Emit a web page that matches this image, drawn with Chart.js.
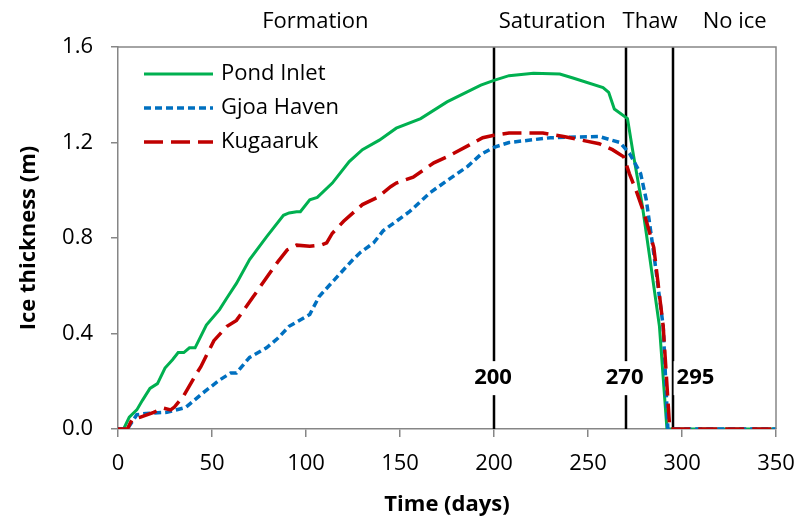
<!DOCTYPE html>
<html>
<head>
<meta charset="utf-8">
<script src="https://cdn.jsdelivr.net/npm/chart.js@4.4.1/dist/chart.umd.min.js"></script>
<style>
    html, body { margin: 0; padding: 0; background: #fff; }
    #wrap { width: 802px; height: 523px; }
</style>
</head>
<body>
<div id="wrap"><canvas id="chart" width="802" height="523"></canvas></div>
<script>
// --- Data ---
const pondDays = [0, 3, 6, 10, 13, 17, 21, 25, 29, 32, 35, 38, 41, 47, 54, 58, 63, 70, 79, 88, 91, 95, 97, 102, 106, 114, 123, 130, 139, 148, 161, 175, 193, 200, 208, 221, 235, 242, 258, 261, 264, 271, 274, 279, 283, 288, 292, 350];
const pondIce = [0, 0, 0.05, 0.08, 0.12, 0.17, 0.19, 0.255, 0.29, 0.32, 0.32, 0.34, 0.34, 0.435, 0.50, 0.55, 0.61, 0.71, 0.805, 0.895, 0.905, 0.91, 0.91, 0.96, 0.97, 1.03, 1.12, 1.17, 1.21, 1.26, 1.30, 1.37, 1.44, 1.46, 1.48, 1.49, 1.487, 1.47, 1.43, 1.41, 1.34, 1.30, 1.155, 0.93, 0.71, 0.43, 0, 0];

const gjoaDays = [0, 5, 10, 15, 26, 36, 45, 54, 60, 63, 70, 79, 85, 91, 102, 107, 118, 125, 129, 136, 141, 148, 155, 166, 175, 186, 193, 200, 208, 230, 256, 267, 272, 278, 281, 285, 290, 292.5, 350];
const gjoaIce = [0, 0, 0.06, 0.065, 0.07, 0.09, 0.15, 0.205, 0.235, 0.235, 0.30, 0.34, 0.38, 0.43, 0.48, 0.555, 0.65, 0.71, 0.74, 0.78, 0.83, 0.87, 0.91, 0.99, 1.04, 1.10, 1.15, 1.18, 1.20, 1.22, 1.225, 1.20, 1.155, 1.07, 0.96, 0.735, 0.43, 0, 0];

const kugaDays = [0, 5, 7.5, 12, 19, 24, 28, 30, 35, 42, 44, 51, 58, 63, 72, 80, 85, 90, 95, 102, 108, 111, 114, 120, 130, 138, 145, 148, 157, 168, 175, 187, 194, 200, 208, 226, 237, 256, 263, 269, 272, 276, 280, 285, 290, 293.5, 350];
const kugaIce = [0, 0, 0.04, 0.05, 0.07, 0.088, 0.08, 0.092, 0.14, 0.235, 0.26, 0.37, 0.43, 0.455, 0.555, 0.645, 0.70, 0.75, 0.77, 0.765, 0.77, 0.78, 0.82, 0.87, 0.94, 0.97, 1.015, 1.03, 1.055, 1.115, 1.14, 1.19, 1.22, 1.23, 1.24, 1.24, 1.225, 1.195, 1.17, 1.14, 1.07, 0.99, 0.90, 0.76, 0.43, 0, 0];

// phase boundaries and phase names (centre of each name, in days)
const boundaries = [200, 270, 295];
const phaseNames = ['Formation', 'Saturation', 'Thaw', 'No ice'];
const phaseCentres = [105, 231, 283, 328];

const FONT = "'Open Sans', sans-serif";

function toPoints(days, vals) {
    return days.map((d, i) => ({ x: d, y: vals[i] }));
}

// --- Phase lines, labels, frame and inline legend ---
const phasePlugin = {
    id: 'phases',
    beforeDatasetsDraw(chart) {
        const { ctx, chartArea, scales } = chart;
        const yLab = scales.y.getPixelForValue(0.213);
        ctx.save();
        ctx.strokeStyle = '#000';
        ctx.lineWidth = 2.5;
        boundaries.forEach(b => {
            const x = Math.round(scales.x.getPixelForValue(b));
            ctx.beginPath();
            ctx.moveTo(x, chartArea.top);
            ctx.lineTo(x, chartArea.bottom);
            ctx.stroke();
        });
        ctx.font = 'bold 22px ' + FONT;
        ctx.textBaseline = 'middle';
        boundaries.forEach((b, i) => {
            const x = scales.x.getPixelForValue(b);
            const txt = String(b);
            const w = ctx.measureText(txt).width;
            // last label sits right of its line
            const left = i === boundaries.length - 1 ? x + 1 : x - w / 2 - 4;
            ctx.fillStyle = '#fff';
            ctx.fillRect(left, yLab - 17, w + 6, 34);
            ctx.fillStyle = '#000';
            ctx.fillText(txt, left + 3, yLab);
        });
        ctx.restore();
    },
    afterDraw(chart) {
        const { ctx, chartArea, scales } = chart;
        ctx.save();
        // frame top/right
        ctx.strokeStyle = '#868686';
        ctx.lineWidth = 1.5;
        ctx.beginPath();
        ctx.moveTo(chartArea.left, chartArea.top);
        ctx.lineTo(chartArea.right, chartArea.top);
        ctx.lineTo(chartArea.right, chartArea.bottom);
        ctx.stroke();

        // phase names above the plot
        ctx.fillStyle = '#000';
        ctx.font = '22px ' + FONT;
        ctx.textAlign = 'center';
        ctx.textBaseline = 'middle';
        phaseNames.forEach((n, i) => {
            ctx.fillText(n, scales.x.getPixelForValue(phaseCentres[i]), 22);
        });

        // legend inside the plot
        ctx.textAlign = 'left';
        chart.data.datasets.forEach((ds, i) => {
            const y = chartArea.top + 27 + i * 34;
            ctx.strokeStyle = ds.borderColor;
            ctx.lineWidth = ds.borderWidth;
            ctx.setLineDash(ds.borderDash || []);
            ctx.beginPath();
            ctx.moveTo(chartArea.left + 26, y);
            ctx.lineTo(chartArea.left + 95, y);
            ctx.stroke();
            ctx.setLineDash([]);
            ctx.fillStyle = '#000';
            ctx.fillText(ds.label, chartArea.left + 103, y);
        });
        ctx.restore();
    }
};

new Chart(document.getElementById('chart'), {
    type: 'line',
    data: {
        datasets: [
            { label: 'Pond Inlet', data: toPoints(pondDays, pondIce), borderColor: '#00B050', borderWidth: 3, order: 3 },
            { label: 'Gjoa Haven', data: toPoints(gjoaDays, gjoaIce), borderColor: '#0070C0', borderWidth: 3.5, borderDash: [7, 4], order: 2 },
            { label: 'Kugaaruk', data: toPoints(kugaDays, kugaIce), borderColor: '#C00000', borderWidth: 3.5, borderDash: [19, 8], order: 1 }
        ]
    },
    options: {
        responsive: false,
        animation: false,
        events: [],
        elements: { point: { radius: 0 }, line: { tension: 0, fill: false } },
        layout: { padding: { left: 0, top: 47, right: 26, bottom: 0 } },
        plugins: { legend: { display: false }, tooltip: { enabled: false } },
        scales: {
            x: {
                type: 'linear',
                min: 0, max: 350,
                ticks: { stepSize: 50, color: '#000', font: { family: FONT, size: 22 }, padding: 14, maxRotation: 0 },
                grid: { drawOnChartArea: false, color: '#868686', tickLength: 8, lineWidth: 1.5 },
                border: { color: '#868686', width: 1.5 },
                title: { display: true, text: 'Time (days)', color: '#000', font: { family: FONT, size: 22, weight: 'bold' }, padding: { top: 0, bottom: 5 } },
                afterFit(scale) {
                    scale.height = 94;
                    // label overhang is covered by layout padding
                    scale.paddingLeft = 0;
                    scale.paddingRight = 0;
                }
            },
            y: {
                min: 0, max: 1.6,
                ticks: { stepSize: 0.4, color: '#000', font: { family: FONT, size: 22 }, padding: 18, callback: v => v.toFixed(1) },
                grid: { drawOnChartArea: false, color: '#868686', tickLength: 7, lineWidth: 1.5 },
                border: { color: '#868686', width: 1.5 },
                title: { display: true, text: 'Ice thickness (m)', color: '#000', font: { family: FONT, size: 22, weight: 'bold' }, padding: { top: 16, bottom: 0 } },
                afterFit(scale) { scale.width = 118; }
            }
        }
    },
    plugins: [phasePlugin]
});
</script>
</body>
</html>
